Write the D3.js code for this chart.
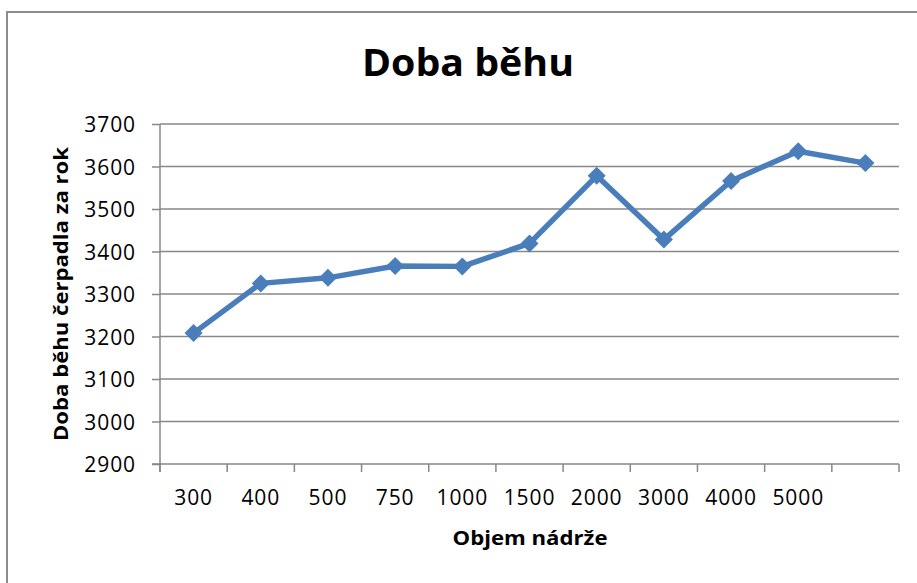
<!DOCTYPE html>
<html>
<head>
<meta charset="utf-8">
<script src="https://cdn.jsdelivr.net/npm/d3@7"></script>
<style>
  html, body { margin: 0; padding: 0; background: #fff; }
  svg { display: block; }
  text { font-family: "Open Sans", "Noto Sans", sans-serif; fill: #000; }
</style>
</head>
<body>
<svg id="chart" width="917" height="583"></svg>
<script>
// ---- data ----
const categories = ["300", "400", "500", "750", "1000", "1500", "2000", "3000", "4000", "5000", ""];
const values = [3208, 3325, 3338, 3366, 3365, 3419, 3578, 3428, 3566, 3636, 3608];
const yTicks = [2900, 3000, 3100, 3200, 3300, 3400, 3500, 3600, 3700];
const title = "Doba běhu";
const xTitle = "Objem nádrže";
const yTitle = "Doba běhu čerpadla za rok";

// ---- layout ----
const W = 917, H = 583;
const plot = { left: 160, right: 899, top: 124, bottom: 464 };
const gridColor = "#878787";
const lineColor = "#4a7ebb";

const svg = d3.select("#chart");

// chart border (only top & left visible in frame)
svg.append("rect")
  .attr("x", 7).attr("y", 12)
  .attr("width", 940).attr("height", 620)
  .attr("fill", "#fff")
  .attr("stroke", "#8c8c8c")
  .attr("stroke-width", 2);

const x = d3.scaleBand().domain(categories).range([plot.left, plot.right]).padding(0);
const y = d3.scaleLinear().domain([2900, 3700]).range([plot.bottom, plot.top]);

// gridlines
svg.append("g")
  .selectAll("line")
  .data(yTicks.filter(d => d !== 2900))
  .join("line")
  .attr("x1", plot.left).attr("x2", plot.right)
  .attr("y1", d => y(d)).attr("y2", d => y(d))
  .attr("stroke", gridColor).attr("stroke-width", 1.5);

// y axis
const yAxis = svg.append("g")
  .attr("transform", `translate(${plot.left},0)`)
  .call(d3.axisLeft(y).tickValues(yTicks).tickSize(8).tickPadding(16).tickFormat(d3.format("d")));
yAxis.select(".domain").attr("stroke", gridColor).attr("stroke-width", 1.5)
  .attr("d", `M0,${plot.top}V${plot.bottom + 8}`);
yAxis.selectAll(".tick line").attr("stroke", gridColor).attr("stroke-width", 1.5);
yAxis.selectAll(".tick text")
  .style("font-family", "'Open Sans', sans-serif")
  .style("font-size", "21px")
  .style("letter-spacing", "0.9px")
  .attr("fill", "#000")
  .attr("dy", "0.36em");

// x axis (labels centred in categories)
const xAxis = svg.append("g")
  .attr("transform", `translate(0,${plot.bottom})`)
  .call(d3.axisBottom(x).tickSize(0).tickPadding(26));
xAxis.select(".domain").attr("stroke", gridColor).attr("stroke-width", 1.5)
  .attr("d", `M${plot.left - 8},0H${plot.right}`);
xAxis.selectAll(".tick text")
  .style("font-family", "'Open Sans', sans-serif")
  .style("font-size", "21px")
  .style("letter-spacing", "0.9px")
  .attr("fill", "#000");

// x tick marks at category boundaries
const bounds = categories.map(c => x(c)).concat([x.range()[1]]);
svg.append("g")
  .selectAll("line")
  .data(bounds)
  .join("line")
  .attr("x1", d => d).attr("x2", d => d)
  .attr("y1", plot.bottom).attr("y2", plot.bottom + 8)
  .attr("stroke", gridColor).attr("stroke-width", 1.5);

// line
const pts = categories.map((c, i) => ({ c, v: values[i] }));
const line = d3.line().x(d => x(d.c) + x.bandwidth() / 2).y(d => y(d.v));
svg.append("path")
  .datum(pts)
  .attr("d", line)
  .attr("fill", "none")
  .attr("stroke", lineColor)
  .attr("stroke-width", 5.5)
  .attr("stroke-linejoin", "round");

// diamond markers
svg.append("g")
  .selectAll("path")
  .data(pts)
  .join("path")
  .attr("transform", d => `translate(${x(d.c) + x.bandwidth() / 2},${y(d.v)})`)
  .attr("d", "M0,-9L9,0L0,9L-9,0Z")
  .attr("fill", lineColor);

// title
svg.append("text")
  .attr("x", 468).attr("y", 76)
  .attr("text-anchor", "middle")
  .style("font-size", "37px").style("font-weight", "bold")
  .attr("textLength", 212).attr("lengthAdjust", "spacingAndGlyphs")
  .text(title);

// x axis title
svg.append("text")
  .attr("x", 530).attr("y", 545)
  .attr("text-anchor", "middle")
  .style("font-size", "20px").style("font-weight", "bold")
  .attr("textLength", 155).attr("lengthAdjust", "spacingAndGlyphs")
  .text(xTitle);

// y axis title
svg.append("text")
  .attr("transform", `translate(68,${(plot.top + plot.bottom) / 2}) rotate(-90)`)
  .attr("text-anchor", "middle")
  .style("font-size", "20px").style("font-weight", "bold")
  .attr("textLength", 294).attr("lengthAdjust", "spacingAndGlyphs")
  .text(yTitle);
</script>
</body>
</html>
